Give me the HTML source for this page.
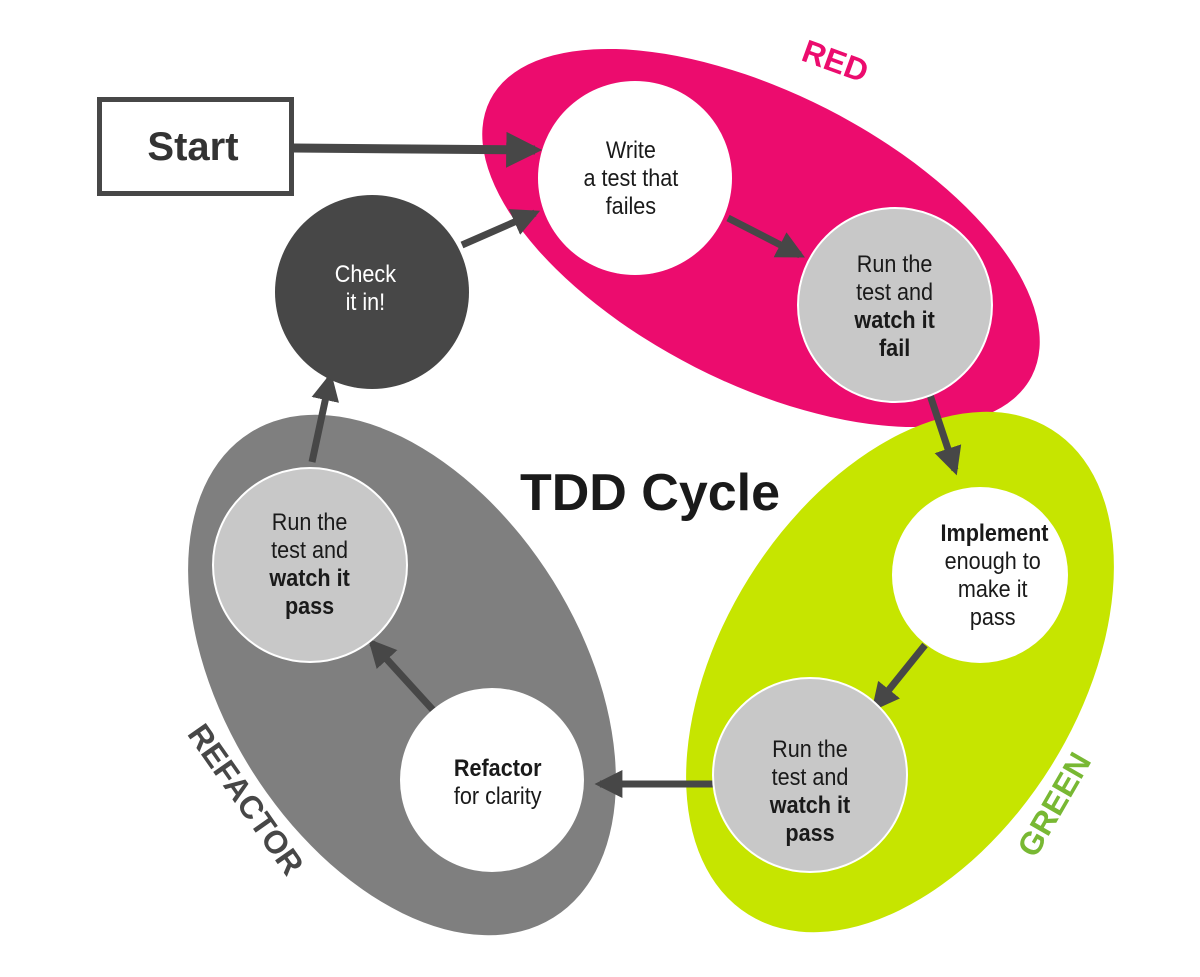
<!DOCTYPE html>
<html><head><meta charset="utf-8"><style>
html,body{margin:0;padding:0;background:#fff}
svg{display:block}
text{font-family:"Liberation Sans",sans-serif;fill:#1a1a1a;text-anchor:middle}
.n{font-size:24px}
.b{font-size:24px;font-weight:bold}
</style></head><body>
<svg width="1200" height="977" viewBox="0 0 1200 977">
<defs>
<marker id="ah" viewBox="0 0 10 10" refX="8" refY="5" markerWidth="4" markerHeight="4" orient="auto"><path d="M0,0 L10,5 L0,10 z" fill="#474747"/></marker>
</defs>
<ellipse cx="761" cy="238" rx="304" ry="145" transform="rotate(27 761 238)" fill="#ec0c6e"/>
<ellipse cx="900" cy="672" rx="286" ry="178" transform="rotate(-58 900 672)" fill="#c6e500"/>
<ellipse cx="402" cy="675" rx="286" ry="178" transform="rotate(58 402 675)" fill="#7f7f7f"/>

<text x="835" y="72" transform="rotate(20 835 62)" style="font-size:32px;font-weight:bold;fill:#ec0c6e">RED</text>
<text x="1055" y="815" transform="rotate(-60 1055 805)" style="font-size:32px;font-weight:bold;fill:#78b833">GREEN</text>
<text x="245" y="810" transform="rotate(55 245 800)" style="font-size:32px;font-weight:bold;fill:#474747">REFACTOR</text>

<rect x="99.5" y="99.5" width="192" height="94" fill="#fff" stroke="#474747" stroke-width="5"/>
<text x="193" y="160" style="font-size:40px;font-weight:bold;fill:#333">Start</text>

<g stroke="#474747" fill="none">
<line x1="293" y1="148" x2="535" y2="150" stroke-width="9" marker-end="url(#ah)"/>
<line x1="462" y1="245" x2="535" y2="213" stroke-width="7" marker-end="url(#ah)"/>
<line x1="728" y1="218" x2="800" y2="255" stroke-width="7" marker-end="url(#ah)"/>
<line x1="930" y1="395" x2="955" y2="470" stroke-width="7" marker-end="url(#ah)"/>
<line x1="925" y1="645" x2="875" y2="707" stroke-width="7" marker-end="url(#ah)"/>
<line x1="713" y1="784" x2="600" y2="784" stroke-width="7" marker-end="url(#ah)"/>
<line x1="433" y1="710" x2="372" y2="643" stroke-width="7" marker-end="url(#ah)"/>
<line x1="312" y1="462" x2="330" y2="378" stroke-width="7" marker-end="url(#ah)"/>
</g>

<g transform="translate(0 0)">
<circle cx="635" cy="178" r="97" fill="#fff"/>
<circle cx="895" cy="305" r="97" fill="#c8c8c8" stroke="#fff" stroke-width="2"/>
<circle cx="980" cy="575" r="88" fill="#fff"/>
<circle cx="810" cy="775" r="97" fill="#c8c8c8" stroke="#fff" stroke-width="2"/>
<circle cx="492" cy="780" r="92" fill="#fff"/>
<circle cx="310" cy="565" r="97" fill="#c8c8c8" stroke="#fff" stroke-width="2"/>
<circle cx="372" cy="292" r="97" fill="#474747"/>
</g>

<g transform="scale(0.9 1)">
<text class="n" x="701" y="158">Write</text>
<text class="n" x="701" y="186">a test that</text>
<text class="n" x="701" y="214">failes</text>

<text class="n" x="994" y="272">Run the</text>
<text class="n" x="994" y="300">test and</text>
<text class="b" x="994" y="328">watch it</text>
<text class="b" x="994" y="356">fail</text>

<text class="b" x="1105" y="541">Implement</text>
<text class="n" x="1103" y="569">enough to</text>
<text class="n" x="1103" y="597">make it</text>
<text class="n" x="1103" y="625">pass</text>

<text class="n" x="900" y="757">Run the</text>
<text class="n" x="900" y="785">test and</text>
<text class="b" x="900" y="813">watch it</text>
<text class="b" x="900" y="841">pass</text>

<text class="b" x="553" y="776">Refactor</text>
<text class="n" x="553" y="804">for clarity</text>

<text class="n" x="344" y="530">Run the</text>
<text class="n" x="344" y="558">test and</text>
<text class="b" x="344" y="586">watch it</text>
<text class="b" x="344" y="614">pass</text>

<text class="n" x="406" y="282" style="fill:#fff">Check</text>
<text class="n" x="406" y="310" style="fill:#fff">it in!</text>
</g>

<text x="650" y="510" style="font-size:52px;font-weight:bold;fill:#1a1a1a">TDD Cycle</text>
</svg>
</body></html>
